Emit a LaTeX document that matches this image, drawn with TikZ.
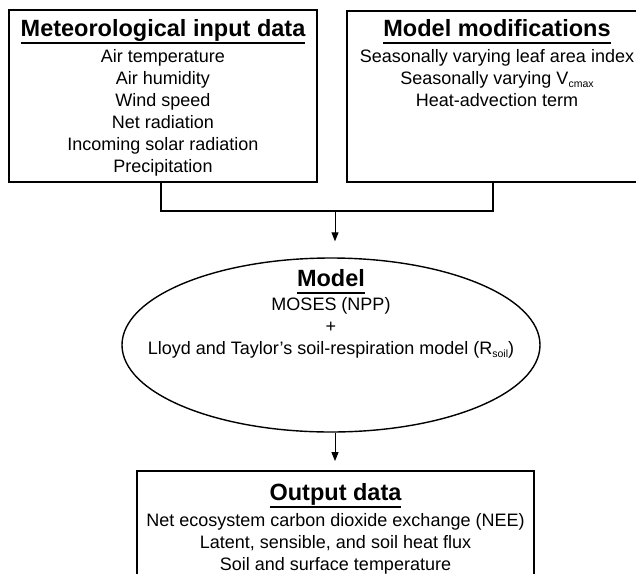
\documentclass[tikz,border=0pt]{standalone}
\usepackage{fontspec}
\setmainfont{Liberation Sans}
\usetikzlibrary{shapes.geometric,arrows.meta}

% bold heading with a heavy rule underneath
\newcommand{\headul}[1]{\setbox0=\hbox{\fontsize{23.5}{22}\selectfont\bfseries #1}\rlap{\rule[-7.5pt]{\wd0}{1.8pt}}\box0}
% small, low subscript
\newcommand{\lowsub}[1]{\raisebox{-3.5pt}{\fontsize{10.5}{10}\selectfont #1}}

\begin{document}
\begin{tikzpicture}[x=1pt,y=-1pt,
  panel/.style={draw=black, line width=1.8pt, inner sep=0pt},
  oval/.style={draw=black, ellipse, line width=1.4pt, inner sep=0pt},
  body/.style={align=center, inner sep=0pt, font=\fontsize{18}{22}\selectfont},
  link/.style={line width=1.8pt},
  flow/.style={line width=1pt, -{Triangle[width=7pt,length=9pt]}},
]
\clip (0,0) rectangle (636,573);

% input panels
\node[panel, minimum width=308pt, minimum height=172pt] (met) at (163,96) {};
\node[panel, minimum width=300pt, minimum height=171pt] (mods) at (497,96.5) {};

\node[body, anchor=north] (mettxt) at (163,19) {\headul{Meteorological input data}\\[4pt]
  Air temperature\\ Air humidity\\ Wind speed\\ Net radiation\\
  Incoming solar radiation\\ Precipitation};

\node[body, anchor=north] (modtxt) at (497,19) {\headul{Model modifications}\\[4pt]
  Seasonally varying leaf area index\\
  Seasonally varying V\lowsub{cmax}\\
  Heat-advection term};

% model
\node[oval, minimum width=418pt, minimum height=174pt] (model) at (331,345) {};
\node[body, anchor=north] (modeltxt) at (331,269) {\headul{Model}\\[2pt]
  MOSES (NPP)\\ +\\
  Lloyd and Taylor's soil-respiration model (R\lowsub{soil})};

% output
\node[panel, minimum width=397pt, minimum height=130pt] (out) at (335.5,536) {};
\node[body, anchor=north] (outtxt) at (335.5,483) {\headul{Output data}\\[4pt]
  Net ecosystem carbon dioxide exchange (NEE)\\
  Latent, sensible, and soil heat flux\\
  Soil and surface temperature};

% connectors
\coordinate (join) at (335,211);
\draw[link] ([xshift=-2pt]met.south) |- (join) -| ([xshift=-4pt]mods.south);
\draw[flow, shorten >=16pt] (join) -- (join |- model.north);
\draw[flow, shorten >=9pt] (join |- model.south) -- (join |- out.north);
\end{tikzpicture}
\end{document}
